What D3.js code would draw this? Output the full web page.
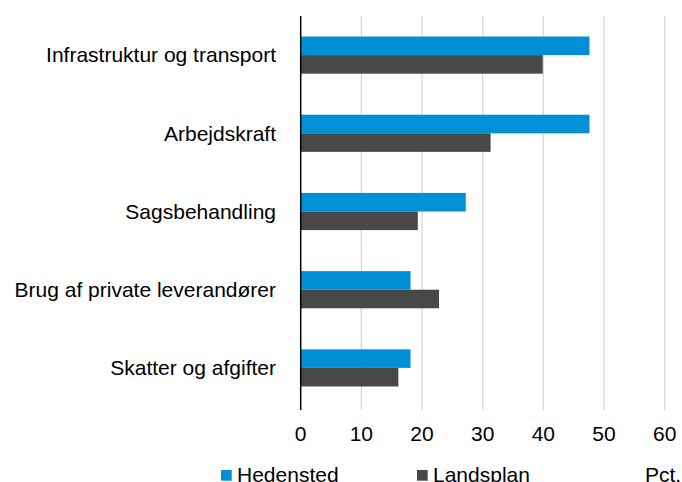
<!DOCTYPE html>
<html>
<head>
<meta charset="utf-8">
<script src="https://cdn.jsdelivr.net/npm/d3@7"></script>
<style>
  body { margin: 0; background: #fff; }
  text { font-family: "Liberation Sans", Arial, sans-serif; }
</style>
</head>
<body>
<div id="chart"></div>
<script>
const categories = ["Infrastruktur og transport", "Arbejdskraft", "Sagsbehandling", "Brug af private leverandører", "Skatter og afgifter"]
const hedensted = [47.6, 47.6, 27.2, 18.1, 18.1]
const landsplan = [39.9, 31.3, 19.3, 22.8, 16.1]
const seriesNames = ["Hedensted", "Landsplan"]
const xTicks = [0, 10, 20, 30, 40, 50, 60]

const width = 682, height = 482
const colors = ["#0090d5", "#484848"]
const fontSize = 21

const svg = d3.select("#chart").append("svg")
    .attr("width", width)
    .attr("height", height)

const x = d3.scaleLinear().domain([0, 60]).range([300.7, 664.7])
const y = d3.scaleBand().domain(categories).range([16, 407]).paddingInner(0.525).paddingOuter(0.2625)
const ySub = d3.scaleBand().domain(seriesNames).range([0, y.bandwidth()])

// gridlines
svg.append("g").selectAll("line")
    .data(xTicks.slice(1))
    .enter().append("line")
    .attr("x1", d => x(d)).attr("x2", d => x(d))
    .attr("y1", 16).attr("y2", 410)
    .attr("stroke", "#d9d9d9")
    .attr("stroke-width", 1.3)

const rows = categories.map((c, i) => ({cat: c, vals: [hedensted[i], landsplan[i]]}))

const groups = svg.append("g").selectAll("g")
    .data(rows)
    .enter().append("g")
    .attr("transform", d => "translate(0," + y(d.cat) + ")")

groups.selectAll("rect")
    .data(d => d.vals.map((v, j) => ({name: seriesNames[j], value: v, j: j})))
    .enter().append("rect")
    .attr("x", x(0))
    .attr("y", d => ySub(d.name))
    .attr("width", d => x(d.value) - x(0))
    .attr("height", ySub.bandwidth())
    .attr("fill", d => colors[d.j])

// y axis line
svg.append("line")
    .attr("x1", x(0)).attr("x2", x(0))
    .attr("y1", 16).attr("y2", 410)
    .attr("stroke", "#000")
    .attr("stroke-width", 1.5)

// category labels
svg.append("g").selectAll("text")
    .data(categories)
    .enter().append("text")
    .attr("x", 276)
    .attr("y", d => y(d) + y.bandwidth() / 2)
    .attr("dy", "0.35em")
    .attr("text-anchor", "end")
    .attr("font-size", fontSize)
    .attr("fill", "#000")
    .text(d => d)

// x tick labels
svg.append("g").selectAll("text")
    .data(xTicks)
    .enter().append("text")
    .attr("x", d => x(d))
    .attr("y", 441)
    .attr("text-anchor", "middle")
    .attr("font-size", fontSize)
    .attr("fill", "#000")
    .text(d => d)

// legend
const legendX = [221, 417]
const legend = svg.append("g").selectAll("g")
    .data(seriesNames)
    .enter().append("g")
    .attr("transform", (d, i) => "translate(" + legendX[i] + ",0)")

legend.append("rect")
    .attr("x", 0).attr("y", 470)
    .attr("width", 10.7).attr("height", 10.7)
    .attr("fill", (d, i) => colors[i])

legend.append("text")
    .attr("x", 16).attr("y", 482)
    .attr("font-size", fontSize)
    .attr("fill", "#000")
    .text(d => d)

svg.append("text")
    .attr("x", 645).attr("y", 482)
    .attr("font-size", fontSize)
    .attr("fill", "#000")
    .text("Pct.")
</script>
</body>
</html>
